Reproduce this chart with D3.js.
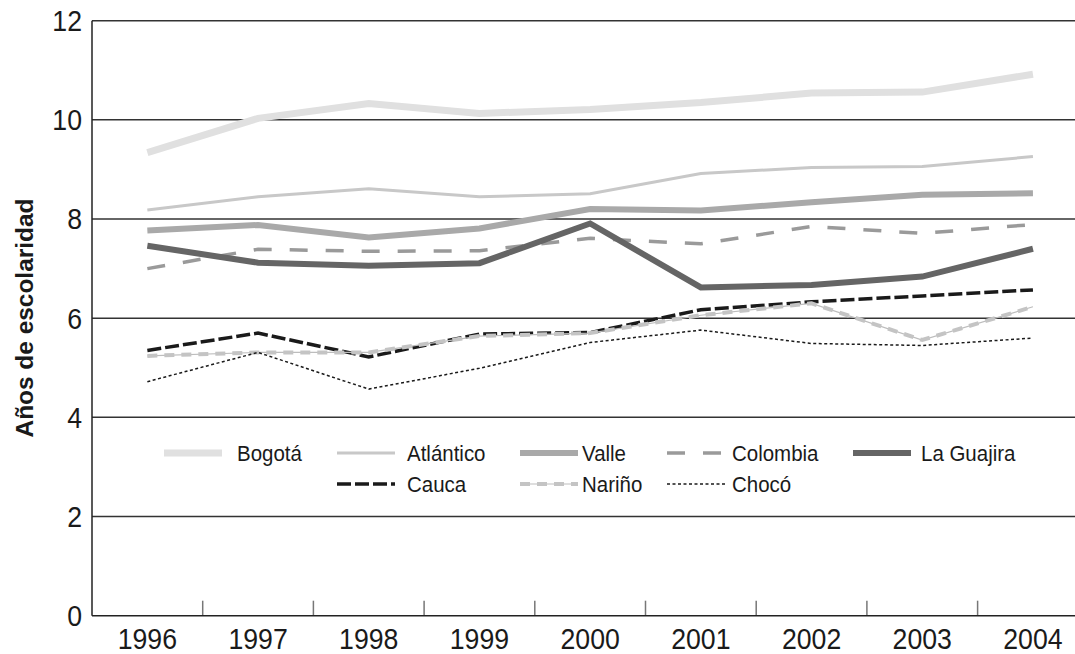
<!DOCTYPE html>
<html><head><meta charset="utf-8">
<script src="https://cdn.jsdelivr.net/npm/d3@7/dist/d3.min.js"></script>
<style>
html,body{margin:0;padding:0;background:#fff;}
svg{display:block;}
text{font-family:"Liberation Sans",Arial,sans-serif;fill:#1a1a1a;}
</style></head>
<body>
<script>
const years = ["1996","1997","1998","1999","2000","2001","2002","2003","2004"];
const yTicks = [0,2,4,6,8,10,12];
const bogota    = [9.34,10.03,10.33,10.13,10.21,10.35,10.54,10.56,10.92];
const atlantico = [8.18,8.45,8.61,8.45,8.51,8.92,9.04,9.06,9.26];
const valle     = [7.77,7.88,7.63,7.81,8.20,8.17,8.34,8.49,8.52];
const colombia  = [7.00,7.39,7.35,7.36,7.61,7.50,7.85,7.71,7.89];
const guajira   = [7.46,7.12,7.06,7.11,7.91,6.62,6.67,6.84,7.40];
const cauca     = [5.35,5.70,5.22,5.68,5.71,6.17,6.33,6.45,6.57];
const narino    = [5.24,5.31,5.31,5.64,5.70,6.06,6.30,5.56,6.23];
const choco     = [4.72,5.31,4.57,4.99,5.51,5.76,5.49,5.45,5.60];
const seriesNames = ["Bogotá","Atlántico","Valle","Colombia","La Guajira","Cauca","Nariño","Chocó"];
const yTitle = "Años de escolaridad";

(function(){
const styles = {
  "Bogotá":    {color:"#e0e0e0", w:7,   dash:null},
  "Atlántico": {color:"#c8c8c8", w:3,   dash:null},
  "Valle":     {color:"#a9a9a9", w:6,   dash:null},
  "Colombia":  {color:"#9a9a9a", w:3.5, dash:"18,18"},
  "La Guajira":{color:"#656565", w:6,   dash:null},
  "Cauca":     {color:"#1a1a1a", w:3.5, dash:"14,4"},
  "Nariño":    {color:"#c4c4c4", w:4,   dash:"10,7", under:"#bdbdbd"},
  "Chocó":     {color:"#1a1a1a", w:1.5, dash:"3,2.5"}
};
const dataMap = {"Bogotá":bogota,"Atlántico":atlantico,"Valle":valle,"Colombia":colombia,
  "La Guajira":guajira,"Cauca":cauca,"Nariño":narino,"Chocó":choco};

const W=1075,H=654;
const mLeft=92, mTop=20.7, mBottom=615.7, band=110.7;
const svg=d3.select("body").append("svg").attr("width",W).attr("height",H);

const x=d3.scaleBand().domain(years).range([mLeft,mLeft+band*years.length]).paddingInner(0).paddingOuter(0);
const y=d3.scaleLinear().domain([0,12]).range([mBottom,mTop]);
const cx=d=>x(d)+x.bandwidth()/2;

svg.append("g").selectAll("line").data(yTicks.filter(t=>t>0)).join("line")
  .attr("x1",mLeft).attr("x2",mLeft+band*years.length)
  .attr("y1",d=>y(d)).attr("y2",d=>y(d))
  .attr("stroke","#333").attr("stroke-width",1.5);

svg.append("g").selectAll("line").data(years.slice(1)).join("line")
  .attr("x1",d=>x(d)).attr("x2",d=>x(d))
  .attr("y1",mBottom).attr("y2",mBottom-15)
  .attr("stroke","#777").attr("stroke-width",1.5);

const line=d3.line().x((d,i)=>cx(years[i])).y(d=>y(d)).curve(d3.curveLinear);
const gS=svg.append("g");
seriesNames.forEach(n=>{
  const s=styles[n];
  if(s.under){
    gS.append("path").attr("d",line(dataMap[n])).attr("fill","none")
      .attr("stroke",s.under).attr("stroke-width",1.2);
  }
  gS.append("path").attr("d",line(dataMap[n])).attr("fill","none")
    .attr("stroke",s.color).attr("stroke-width",s.w)
    .attr("stroke-dasharray",s.dash).attr("stroke-linejoin","miter");
});

svg.append("line").attr("x1",mLeft).attr("x2",mLeft).attr("y1",mTop).attr("y2",mBottom)
  .attr("stroke","#222").attr("stroke-width",1.5);
svg.append("line").attr("x1",mLeft).attr("x2",W).attr("y1",mBottom).attr("y2",mBottom)
  .attr("stroke","#222").attr("stroke-width",1.5);

// condensed-looking text helper
function ctext(g,tx,ty,str,size,anchor,sx,dy){
  return g.append("text").attr("transform",`translate(${tx},${ty}) scale(${sx},1)`)
    .attr("text-anchor",anchor).attr("dy",dy||0).attr("font-size",size).text(str);
}
const gY=svg.append("g");
yTicks.forEach(t=>ctext(gY,82,y(t),t,29,"end",0.92,"0.36em"));
const gX=svg.append("g");
years.forEach(yr=>ctext(gX,cx(yr),649,yr,29,"middle",0.92));

svg.append("text").attr("transform","translate(33,318) rotate(-90)")
  .attr("text-anchor","middle").attr("font-size",24.5).attr("font-weight","bold")
  .attr("textLength",239).attr("lengthAdjust","spacingAndGlyphs").text(yTitle);

const colSw=[164,337,520,667,853], colTx=[237,407,582,732,921];
const legendRows=[[0,1,2,3,4],[null,5,6,7,null]];
const rowY=[453,484];
const lg=svg.append("g");
legendRows.forEach((row,r)=>{
  row.forEach((si,c)=>{
    if(si===null) return;
    const n=seriesNames[si], s=styles[n];
    if(s.under){
      lg.append("line").attr("x1",colSw[c]).attr("x2",colSw[c]+58).attr("y1",rowY[r]).attr("y2",rowY[r])
        .attr("stroke",s.under).attr("stroke-width",1.2);
    }
    lg.append("line").attr("x1",colSw[c]).attr("x2",colSw[c]+58).attr("y1",rowY[r]).attr("y2",rowY[r])
      .attr("stroke",s.color).attr("stroke-width",s.w).attr("stroke-dasharray",s.dash);
    ctext(lg,colTx[c],rowY[r],n,22.5,"start",0.91,"0.36em");
  });
});
})();
</script>
</body></html>
